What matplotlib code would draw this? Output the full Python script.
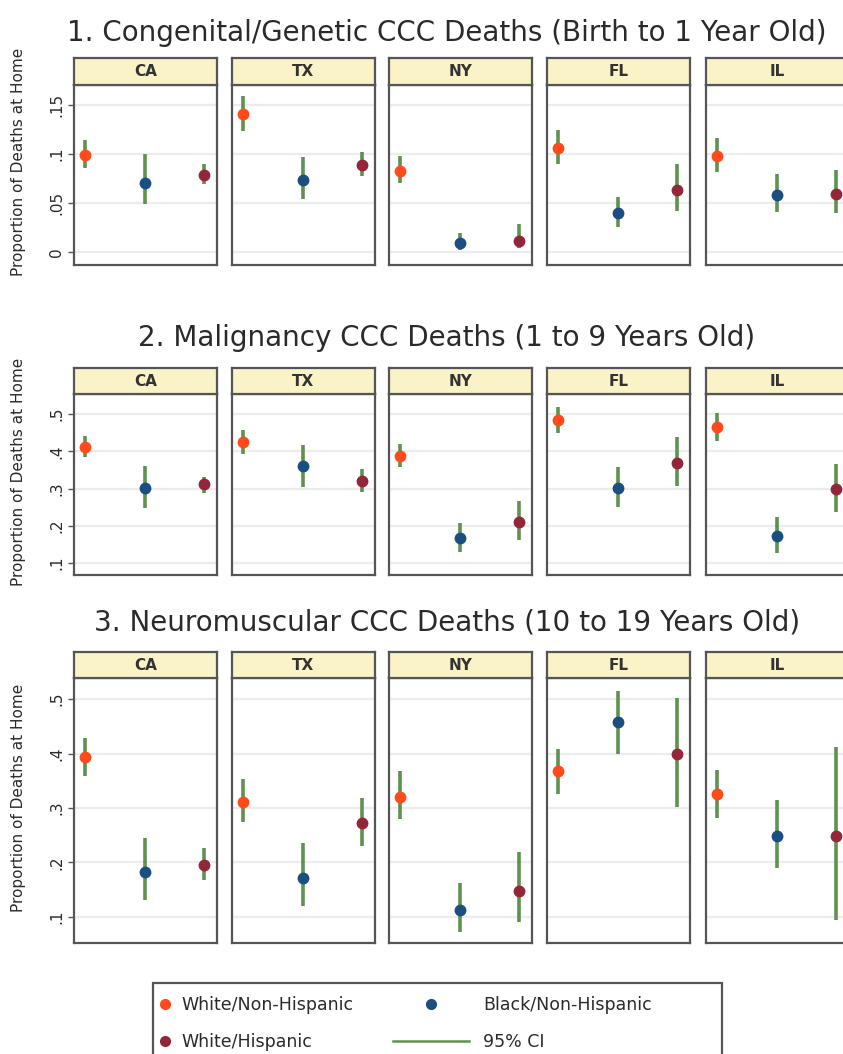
import matplotlib.pyplot as plt
from matplotlib.lines import Line2D
from matplotlib.patches import Rectangle

# ---- data ----
states = ['CA', 'TX', 'NY', 'FL', 'IL']
groups = ['White/Non-Hispanic', 'Black/Non-Hispanic', 'White/Hispanic']
group_x = [1, 2, 3]

titles = ['1. Congenital/Genetic CCC Deaths (Birth to 1 Year Old)',
          '2. Malignancy CCC Deaths (1 to 9 Years Old)',
          '3. Neuromuscular CCC Deaths (10 to 19 Years Old)']

# per state: [white non-hisp, black non-hisp, white hisp]
cong_est = [[0.099, 0.070, 0.079], [0.141, 0.073, 0.089], [0.083, 0.009, 0.011],
            [0.106, 0.040, 0.063], [0.098, 0.058, 0.059]]
cong_lo = [[0.086, 0.049, 0.069], [0.123, 0.054, 0.077], [0.070, 0.002, 0.004],
           [0.090, 0.026, 0.042], [0.082, 0.041, 0.040]]
cong_hi = [[0.114, 0.100, 0.090], [0.159, 0.097, 0.102], [0.098, 0.020, 0.029],
           [0.124, 0.056, 0.090], [0.116, 0.080, 0.084]]

malig_est = [[0.411, 0.301, 0.312], [0.424, 0.360, 0.320], [0.387, 0.167, 0.210],
             [0.483, 0.301, 0.368], [0.465, 0.172, 0.298]]
malig_lo = [[0.384, 0.247, 0.288], [0.392, 0.304, 0.290], [0.357, 0.129, 0.162],
            [0.449, 0.250, 0.306], [0.427, 0.126, 0.236]]
malig_hi = [[0.440, 0.360, 0.331], [0.457, 0.416, 0.352], [0.419, 0.207, 0.266],
            [0.518, 0.357, 0.438], [0.502, 0.224, 0.365]]

neuro_est = [[0.394, 0.183, 0.195], [0.311, 0.172, 0.272], [0.320, 0.113, 0.148],
             [0.368, 0.458, 0.399], [0.326, 0.249, 0.249]]
neuro_lo = [[0.359, 0.131, 0.168], [0.274, 0.120, 0.230], [0.280, 0.072, 0.091],
            [0.326, 0.399, 0.302], [0.282, 0.190, 0.095]]
neuro_hi = [[0.428, 0.245, 0.227], [0.353, 0.236, 0.318], [0.368, 0.162, 0.219],
            [0.408, 0.515, 0.502], [0.370, 0.315, 0.412]]

yticks = [[0, 0.05, 0.1, 0.15], [0.1, 0.2, 0.3, 0.4, 0.5], [0.1, 0.2, 0.3, 0.4, 0.5]]
ytick_labels = [['0', '.05', '.1', '.15'], ['.1', '.2', '.3', '.4', '.5'],
                ['.1', '.2', '.3', '.4', '.5']]
ylims = [(-0.013, 0.170), (0.068, 0.554), (0.052, 0.539)]

rows = [(cong_est, cong_lo, cong_hi), (malig_est, malig_lo, malig_hi),
        (neuro_est, neuro_lo, neuro_hi)]

# ---- styling ----
colors = ['#ff4a1c', '#1b4f82', '#93263a']
ci_color = '#5f9150'
strip_color = '#faf3c8'
frame_color = '#555555'
text_color = '#2a2a2a'

W, H = 843, 1054
fig = plt.figure(figsize=(W / 100, H / 100), dpi=100)


def box(x0, y0, x1, y1):
    return [x0 / W, 1 - y1 / H, (x1 - x0) / W, (y1 - y0) / H]


panel_left = [74, 232, 389, 547, 706]
panel_w = 143
# (title y, strip top, strip bottom, panel bottom) in pixels
row_px = [(33, 58, 85, 265), (338, 368, 394, 575), (622, 652, 678, 943)]

for r, (est, lo, hi) in enumerate(rows):
    ty, s_top, s_bot, p_bot = row_px[r]
    fig.text(447 / W, 1 - ty / H, titles[r], fontsize=20, color=text_color,
             ha='center', va='center')
    fig.text(19 / W, 1 - (s_top + p_bot) / 2 / H, 'Proportion of Deaths at Home',
             rotation=90, fontsize=11, color=text_color, ha='center', va='center')

    for i, st in enumerate(states):
        x0 = panel_left[i]
        ax = fig.add_axes(box(x0, s_bot, x0 + panel_w, p_bot))
        ax.set_xlim(0.815, 3.215)
        ax.set_ylim(*ylims[r])
        ax.set_yticks(yticks[r])
        ax.set_xticks([])
        ax.set_axisbelow(True)
        ax.yaxis.grid(True, color='#ececec', lw=1.6)
        for sp in ax.spines.values():
            sp.set_color(frame_color)
            sp.set_linewidth(1.6)
        if i == 0:
            ax.set_yticklabels(ytick_labels[r], rotation=90, va='center',
                               fontsize=11, color=text_color)
            ax.tick_params(axis='y', length=4, width=1, color=frame_color, pad=3)
        else:
            ax.tick_params(axis='y', left=False, labelleft=False)

        ax.vlines(group_x, lo[i], hi[i], color=ci_color, lw=2.6, zorder=2)
        for g in range(3):
            ax.plot(group_x[g], est[i][g], 'o', color=colors[g], ms=7.5,
                    zorder=3)

        # strip header
        sax = fig.add_axes(box(x0, s_top, x0 + panel_w, s_bot))
        sax.set_facecolor(strip_color)
        sax.set_xticks([])
        sax.set_yticks([])
        for sp in sax.spines.values():
            sp.set_color(frame_color)
            sp.set_linewidth(1.6)
        sax.text(0.5, 0.5, st, transform=sax.transAxes, ha='center',
                 va='center', fontsize=11, fontweight='bold', color='#333333')

# ---- legend ----
leg_font = 12.5
h1 = [Line2D([], [], ls='none', marker='o', color=colors[0], ms=7),
      Line2D([], [], ls='none', marker='o', color=colors[2], ms=7)]
h2 = [Line2D([], [], ls='none', marker='o', color=colors[1], ms=7),
      Line2D([], [], color=ci_color, lw=1.8)]
leg1 = fig.legend(h1, [groups[0], groups[2]], loc='upper left',
                  bbox_to_anchor=(159 / W, 1 - 996 / H), frameon=False,
                  fontsize=leg_font, handlelength=0.7, handletextpad=0.6,
                  labelspacing=1.1, borderpad=0, borderaxespad=0)
leg2 = fig.legend(h2, [groups[1], '95% CI'], loc='upper left',
                  bbox_to_anchor=(393 / W, 1 - 996 / H), frameon=False,
                  fontsize=leg_font, handlelength=4.4, handletextpad=0.8,
                  labelspacing=1.1, borderpad=0, borderaxespad=0)
for leg in (leg1, leg2):
    for t in leg.get_texts():
        t.set_color(text_color)

fig.add_artist(Rectangle((153 / W, 1 - 1070 / H), (722 - 153) / W, (1070 - 983) / H,
                         transform=fig.transFigure, fill=False,
                         edgecolor=frame_color, lw=1.6))

fig.savefig('out.png', dpi=100)
